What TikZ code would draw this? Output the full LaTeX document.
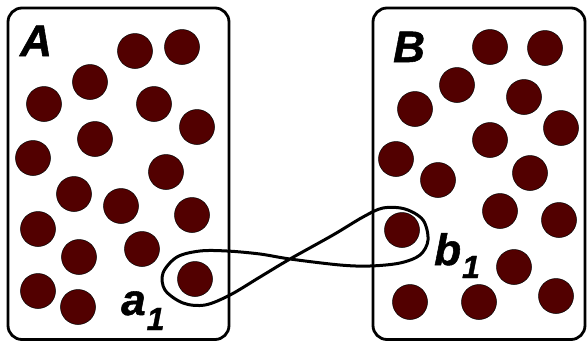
\documentclass[tikz,border=0pt]{standalone}
\usepackage{fontspec}
\setmainfont{Liberation Sans}
\newfontfamily\labfont[FakeBold=1.2]{Liberation Sans Bold Italic}
\definecolor{dotred}{HTML}{520000}
\begin{document}
\begin{tikzpicture}[x=1pt,y=-1pt,
  frame/.style={draw=black,line width=2.8pt,rounded corners=14pt},
  ball/.style={circle,draw=black,line width=0.5pt,fill=dotred,minimum size=35pt,inner sep=0pt},
  lab/.style={anchor=base west,inner sep=0pt,font=\labfont\fontsize{44}{44}\selectfont},
  loop/.style={draw=black,line width=3pt}]
\useasboundingbox (0,0) rectangle (587,341);
\draw[frame] (8,8) rectangle (229,339.5);
\draw[frame] (373,8) rectangle (585,339.5);
% set A
\foreach \x/\y [count=\i] in {135/51,182/47,90/82,44/104,154/104,197/127,95/139,33/158,166/172,74/194,121/206,192/215,38/229,79/257,142/249,195/279,38/291,78/307}
  \node[ball] (pa\i) at (\x,\y) {};
% set B
\foreach \x/\y [count=\i] in {490/47,545/48,457/85,415/109,524/97,561/128,490/140,396/159,438/180,530/173,500/211,559/220,402/230,514/267,410/302,479/302,556/296}
  \node[ball] (pb\i) at (\x,\y) {};
\node[lab] (labA) at (20,56) {A};
\node[lab] (labB) at (393,62) {B};
\node[lab] (laba) at (121,315) {a\kern1pt\raisebox{-15pt}{\fontsize{32}{32}\selectfont 1}};
\node[lab] (labb) at (434,265) {b\kern1pt\raisebox{-13pt}{\fontsize{32}{32}\selectfont 1}};
% figure-eight loop
\draw[loop] plot[smooth cycle,tension=0.55] coordinates {
  (290,259) (260,254) (227,251) (200,251) (177,257) (163,273) (165,290) (183,303)
  (205,305) (230,295) (260,277) (290,259) (333,235) (363,217) (383,208) (405,209)
  (423,220) (428,240) (420,255) (400,263) (370,266) (340,265)};
\end{tikzpicture}
\end{document}
